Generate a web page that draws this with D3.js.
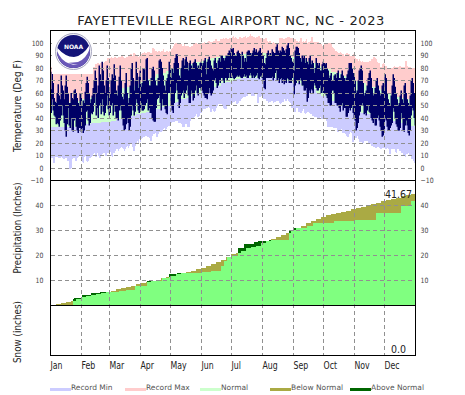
<!DOCTYPE html>
<html>
<head>
<meta charset="utf-8">
<script src="https://cdn.jsdelivr.net/npm/d3@7"></script>
<style>
    html, body { margin: 0; padding: 0; background: #fff; }
    svg { display: block; font-family: "DejaVu Sans", sans-serif; }
    .axis text { font-size: 7.3px; fill: #444; font-family: "DejaVu Sans", sans-serif; }
    .axis path, .axis line { display: none; }
</style>
</head>
<body>
<div id="chart"></div>
<script>
var months = ["Jan", "Feb", "Mar", "Apr", "May", "Jun", "Jul", "Aug", "Sep", "Oct", "Nov", "Dec"];
var monthStart = [0, 31, 59, 90, 120, 151, 181, 212, 243, 273, 304, 334];
var tempTicks = [-10, 0, 10, 20, 30, 40, 50, 60, 70, 80, 90, 100];
var precipTicks = [10, 20, 30, 40];

var recordMax = [
    81,81,80,80,80,80,80,80,79,79,80,80,80,80,80,80,79,79,79,79,80,80,81,81,81,81,80,80,80,80,80,
    80,81,81,81,81,81,81,82,82,82,81,81,81,83,83,84,84,83,84,85,85,84,85,86,86,88,88,88,
    88,89,88,88,89,89,88,88,89,89,89,90,90,89,88,88,89,89,90,90,91,91,90,92,92,91,90,90,89,90,90,
    91,92,92,93,92,92,93,93,93,92,92,96,96,95,94,94,93,94,94,93,94,94,95,93,93,94,94,93,94,94,
    95,96,98,99,100,100,99,100,100,99,99,98,98,99,98,98,98,98,97,97,98,98,99,100,100,100,99,99,99,100,100,
    100,100,101,100,100,101,102,102,101,101,101,102,102,103,103,102,102,102,103,103,103,104,103,104,104,103,103,104,104,104,
    105,106,104,105,104,103,103,105,105,104,104,105,105,106,104,105,105,106,107,106,106,105,105,104,105,105,106,106,104,104,104,
    103,103,104,104,102,101,102,102,100,100,101,100,100,99,99,100,104,104,104,104,103,103,104,104,105,105,105,104,104,104,104,
    103,103,102,102,101,102,104,104,101,102,101,102,103,100,101,101,102,105,105,101,101,101,101,101,101,100,100,99,98,98,
    99,99,99,100,100,100,100,100,97,96,95,94,94,93,92,92,93,92,91,91,90,91,92,92,91,91,90,90,90,91,92,
    88,87,87,86,87,86,85,86,85,85,85,85,85,85,86,86,87,87,89,89,88,87,85,84,84,81,81,83,84,83,
    82,82,80,79,80,80,80,80,81,82,81,81,81,81,82,82,81,81,81,81,86,86,82,81,81,81,80,80,80,80,80
];
var recordMin = [
    8,8,4,4,9,9,9,8,8,8,9,8,7,7,8,8,6,6,-1,-1,0,7,8,8,6,6,8,9,10,10,7,
    5,4,9,10,6,5,6,8,8,9,10,11,12,9,9,12,10,8,8,10,11,12,12,10,10,12,12,13,
    13,10,9,12,12,14,15,15,14,15,16,17,16,15,14,15,17,18,16,18,19,19,17,14,14,18,20,22,20,23,21,
    23,24,25,25,26,26,25,25,24,22,22,26,27,27,28,25,25,27,29,29,29,30,31,32,30,31,33,34,34,35,
    36,37,37,37,38,38,38,36,36,36,35,33,33,33,35,35,33,33,33,38,40,40,39,41,42,43,41,41,42,44,44,
    46,47,47,47,48,48,49,48,45,45,47,46,45,46,48,50,51,51,51,51,50,48,47,47,47,50,50,50,51,52,
    52,53,53,54,51,51,52,54,54,55,56,57,57,57,58,58,59,59,59,58,58,58,58,59,59,52,52,57,57,58,58,
    55,55,55,54,54,52,53,53,54,54,52,53,53,54,54,54,52,51,52,53,53,55,54,54,55,54,53,52,48,48,46,
    45,45,48,48,45,45,44,44,46,47,44,43,44,45,45,44,43,43,42,42,41,41,41,40,40,40,41,39,39,39,
    39,39,38,33,33,33,33,33,33,32,32,32,32,29,29,30,30,31,28,28,28,27,26,25,25,27,29,28,21,21,23,
    24,24,26,23,21,21,21,20,20,22,22,22,22,20,19,19,18,18,17,17,16,16,17,17,16,15,15,16,16,16,
    15,15,16,15,11,11,15,15,15,15,13,12,15,15,14,14,12,12,10,10,9,11,11,12,10,10,7,7,6,4,2
];
// normals read every 5 days
var normalHigh = [
    53,53,53,53,53,54, 55,56,57,58,59,60, 61,62,64,65,66,67, 69,71,73,75,76,78, 79,80,81,82,83,85, 86,87,88,89,90,90,
    91,91,91,92,92,92, 92,91,91,91,90,90, 89,88,87,86,84,82, 81,79,77,76,74,73, 71,70,68,66,65,63, 62,60,58,57,56,55, 54
];
var normalLow = [
    33,33,33,33,33,33, 34,35,36,36,37,37, 38,39,40,41,42,43, 44,45,46,47,49,50, 52,53,55,56,58,60, 62,63,65,66,68,69,
    70,71,72,72,72,72, 72,72,72,71,71,70, 69,68,66,65,63,60, 58,56,54,52,50,48, 47,45,44,43,42,41, 40,39,38,37,36,35, 34
];
var highs = [
    63,77,68,56,53,52,60,67,58,55,74,66,62,55,66,74,65,60,52,52,60,56,55,62,63,60,56,52,50,60,58,
    50,54,52,61,68,73,68,60,52,55,58,64,70,78,72,60,66,82,75,70,85,78,66,60,70,82,72,61,
    60,70,75,72,83,74,62,58,66,73,82,70,57,55,60,68,76,60,52,56,66,80,84,72,62,70,85,76,64,73,78,
    65,68,80,79,70,87,88,70,66,66,72,80,81,78,70,66,66,72,86,87,85,80,74,66,62,70,72,75,85,82,
    72,80,76,84,88,91,91,84,74,72,80,86,88,82,87,89,85,78,84,86,82,80,84,85,87,84,80,82,80,84,85,
    82,84,86,88,75,85,87,89,86,82,80,78,86,88,84,80,86,88,85,90,90,88,86,88,90,90,92,94,92,96,
    95,96,92,90,90,93,94,92,91,80,93,90,85,88,85,93,94,94,92,90,92,94,96,93,95,92,93,94,96,92,90,
    90,84,83,88,92,94,90,92,90,95,93,92,92,97,99,94,92,94,93,97,96,94,92,95,98,100,96,90,88,85,85,
    78,94,97,97,96,92,88,85,90,88,90,84,88,85,83,88,90,83,86,84,76,80,88,84,82,84,78,78,83,85,
    84,83,84,80,78,72,74,76,70,70,74,75,72,76,78,72,72,75,78,74,72,70,72,75,78,84,84,84,80,76,74,
    70,60,62,70,78,80,82,78,68,58,60,62,66,72,76,78,72,64,58,60,64,70,72,66,62,58,60,66,68,62,
    75,72,60,55,52,50,58,66,75,72,65,60,55,50,52,58,62,55,52,66,68,60,55,52,50,58,70,72,68,60,55
];
var lows = [
    44,55,46,42,41,35,36,35,33,38,42,50,42,36,30,25,35,48,34,32,40,30,29,38,40,33,30,28,32,32,29,
    32,28,30,34,45,46,38,34,36,44,43,45,52,60,42,48,40,50,52,43,55,45,42,44,50,58,47,42,
    44,50,52,42,50,45,40,40,38,46,50,46,40,34,30,31,35,40,36,30,33,42,50,46,42,45,55,52,46,44,48,
    52,46,46,47,50,52,55,46,48,44,44,40,38,37,37,48,55,56,58,52,46,55,50,50,47,44,43,60,60,62,
    50,46,44,52,60,68,62,55,48,52,58,60,62,56,60,62,66,58,52,52,62,60,54,56,62,66,60,58,64,64,62,
    62,60,58,56,56,55,60,64,60,58,60,62,70,72,68,64,66,70,68,72,72,70,68,72,72,70,72,76,72,72,
    74,72,71,72,73,74,73,74,73,72,72,73,75,73,74,72,72,74,76,74,72,74,72,73,74,76,72,71,73,74,72,
    70,64,63,72,72,72,72,72,72,73,70,72,76,78,70,72,68,71,72,68,71,67,69,68,72,71,68,68,68,72,74,
    59,66,68,70,70,67,72,70,66,66,62,62,64,53,56,62,60,63,62,60,68,66,64,62,62,64,66,60,62,60,
    60,60,58,56,52,52,50,50,62,62,60,52,52,50,50,48,45,50,52,46,48,48,41,41,44,48,46,48,50,44,40,
    38,30,32,36,42,45,50,52,50,43,44,42,46,50,45,44,40,38,36,40,34,34,40,42,38,33,30,25,26,30,
    40,38,33,30,30,32,34,36,48,45,40,35,33,30,30,32,44,40,30,29,34,38,34,28,26,30,42,48,46,40,34
];
// normal accumulated precip, read every 5 days
var normalPrecip = [
    0.1,0.5,0.9,1.4,2.0,2.6,3.3,3.8,4.2,4.6,5.0,5.4,6.0,6.5,7.0,7.5,8.0,8.5,9.0,9.5,10.0,10.4,10.9,11.4,
    12.0,12.5,13.0,13.5,14.0,14.6,15.2,15.9,16.7,17.5,18.4,19.5,20.5,21.0,22.0,22.9,23.3,24.0,25.0,26.0,
    26.8,27.6,28.4,29.2,30.2,31.0,32.0,33.0,33.8,34.6,35.5,36.2,36.7,37.2,37.6,38.0,38.5,39.0,39.6,40.1,
    40.7,41.2,41.7,42.2,42.7,43.2,43.7,44.4,44.7
];
// days it rained and the year's running total after that day
var rainDays = [0,20,22,23,27,29,30,31,40,49,68,75,84,96,111,118,126,151,160,170,173,176,181,187,193,203,207,218,238,242,247,256,262,283,304,325,350,360];
var rainTotals = [0,0.3,2.7,2.9,3.0,3.2,3.6,4.2,5.0,5.3,6.0,6.4,8.0,9.9,10.9,12.6,13.0,13.3,14.0,16.0,18.0,19.6,19.8,23.0,24.8,25.3,26.0,26.4,30.3,31.0,31.1,32.0,33.0,34.0,34.4,37.0,40.0,41.67];

var legendNames = ["Record Min", "Record Max", "Normal", "Below Normal", "Above Normal"];
var legendColors = ["#ccccff", "#ffcccc", "#ccffcc", "#aaaa44", "#006600"];
var legendX = [50, 125, 200, 270, 350];

var left = 50.5, right = 415.5;
var days = d3.range(365);
var x = d3.scaleLinear().domain([0, 365]).range([left, right]);
var yTemp = d3.scaleLinear().domain([-10, 110]).range([180.5, 30.5]);
var yPrecip = d3.scaleLinear().domain([0, 50]).range([305.5, 180.5]);

var svg = d3.select("#chart").append("svg").attr("width", 465).attr("height", 395);

function fiveDay(arr, d) { return arr[Math.floor(d / 5)]; }
function rainAt(d) { return rainTotals[d3.bisectRight(rainDays, d) - 1]; }

function bars(color, y, low, high, w) {
    svg.append("g").attr("shape-rendering", w ? "auto" : "crispEdges").attr("fill", color)
        .selectAll("rect").data(days).enter().append("rect")
        .attr("x", function(d) { return x(d); })
        .attr("width", w || 1)
        .attr("y", function(d) { return y(Math.max(low(d), high(d))); })
        .attr("height", function(d) { return Math.abs(y(low(d)) - y(high(d))); });
}

// the page's text runs narrower than DejaVu, so pull it in
function squeeze(sel, k) {
    sel.each(function() {
        d3.select(this).attr("textLength", this.getComputedTextLength() * k).attr("lengthAdjust", "spacingAndGlyphs");
    });
}

// temperature bands
bars("#ccccff", yTemp, function(d) { return recordMin[d]; }, function(d) { return fiveDay(normalLow, d); });
bars("#ccffcc", yTemp, function(d) { return fiveDay(normalLow, d); }, function(d) { return fiveDay(normalHigh, d); });
bars("#ffcccc", yTemp, function(d) { return fiveDay(normalHigh, d); }, function(d) { return recordMax[d]; });
bars("#000066", yTemp, function(d) { return lows[d]; }, function(d) { return highs[d]; }, 1.5);

// precipitation
bars("#80ff80", yPrecip, function() { return 0; }, function(d) { return Math.min(rainAt(d), fiveDay(normalPrecip, d)); });
bars("#aaaa44", yPrecip, function(d) { return Math.min(rainAt(d), fiveDay(normalPrecip, d)); }, function(d) { return fiveDay(normalPrecip, d); });
bars("#006600", yPrecip, function(d) { return fiveDay(normalPrecip, d); }, function(d) { return Math.max(rainAt(d), fiveDay(normalPrecip, d)); });

// grid
var grid = svg.append("g").attr("stroke", "#909090").attr("stroke-dasharray", "4,3").attr("shape-rendering", "crispEdges");
grid.selectAll(".t").data(tempTicks.slice(1)).enter().append("line")
    .attr("x1", left).attr("x2", right)
    .attr("y1", function(d) { return yTemp(d); }).attr("y2", function(d) { return yTemp(d); });
grid.selectAll(".p").data(precipTicks).enter().append("line")
    .attr("x1", left).attr("x2", right)
    .attr("y1", function(d) { return yPrecip(d); }).attr("y2", function(d) { return yPrecip(d); });
grid.selectAll(".m").data(monthStart.slice(1)).enter().append("line")
    .attr("y1", 30.5).attr("y2", 355.5)
    .attr("x1", function(d) { return x(d); }).attr("x2", function(d) { return x(d); });

// logo
var logo = svg.append("g");
logo.append("rect").attr("x", 52).attr("y", 31).attr("width", 41).attr("height", 43).attr("fill", "#fff");
var defs = svg.append("defs");
defs.append("clipPath").attr("id", "disc").append("circle").attr("cx", 73.5).attr("cy", 51.5).attr("r", 16.5);
logo.append("circle").attr("cx", 73.5).attr("cy", 51.5).attr("r", 18).attr("fill", "#f2f2f8").attr("stroke", "#a8a8c0").attr("stroke-width", 1);
var disc = logo.append("g").attr("clip-path", "url(#disc)");
disc.append("rect").attr("x", 55).attr("y", 33).attr("width", 37).attr("height", 37).attr("fill", "#141478");
disc.append("path").attr("d", "M55,49 L70,63 Q82,59 92,41 L92,70 L55,70 Z").attr("fill", "#6a58b8");
disc.append("path").attr("d", "M55,45 Q64,57 74,57 Q84,56 92,41 Q88,59 78,62 L68,63 L78,65 Q68,65 62,59 Q57,53 55,45 Z").attr("fill", "#fff");
logo.append("text").attr("x", 73.5).attr("y", 48.7).attr("text-anchor", "middle").attr("font-size", 6).attr("font-weight", "bold").attr("fill", "#fff").text("NOAA");

// frame
var frame = svg.append("g").attr("stroke", "#000").attr("shape-rendering", "crispEdges").attr("fill", "none");
frame.append("rect").attr("x", left).attr("y", 30.5).attr("width", right - left).attr("height", 325);
frame.append("line").attr("x1", left).attr("x2", right).attr("y1", 180.5).attr("y2", 180.5);
frame.append("line").attr("x1", left).attr("x2", right).attr("y1", 305.5).attr("y2", 305.5);

// axes
svg.append("g").attr("class", "axis").attr("transform", "translate(" + left + ",0)")
    .call(d3.axisLeft(yTemp).tickValues(tempTicks).tickSize(0).tickPadding(7));
svg.append("g").attr("class", "axis").attr("transform", "translate(" + right + ",0)")
    .call(d3.axisRight(yTemp).tickValues(tempTicks).tickSize(0).tickPadding(5));
svg.append("g").attr("class", "axis").attr("transform", "translate(" + left + ",0)")
    .call(d3.axisLeft(yPrecip).tickValues(precipTicks).tickSize(0).tickPadding(7));
svg.append("g").attr("class", "axis").attr("transform", "translate(" + right + ",0)")
    .call(d3.axisRight(yPrecip).tickValues(precipTicks).tickSize(0).tickPadding(5));
squeeze(svg.selectAll(".axis text"), 0.85);

// month labels
svg.selectAll(".month").data(months).enter().append("text")
    .attr("class", "month")
    .attr("x", function(d, i) { return x(monthStart[i]); })
    .attr("y", 369)
    .style("font-size", "10px").style("fill", "#222")
    .text(function(d) { return d; });
squeeze(svg.selectAll(".month"), 0.78);

svg.append("text")
    .attr("x", 231).attr("y", 25)
    .style("text-anchor", "middle").style("font-size", "13px").style("letter-spacing", "0.6px").style("fill", "#222")
    .text("FAYETTEVILLE REGL AIRPORT NC, NC - 2023");

function sideLabel(name, cy, len) {
    svg.append("text")
        .attr("transform", "translate(21," + cy + ") rotate(-90)")
        .attr("textLength", len).attr("lengthAdjust", "spacingAndGlyphs")
        .style("text-anchor", "middle").style("font-size", "10px").style("fill", "#222")
        .text(name);
}
sideLabel("Temperature (Deg F)", 106, 92);
sideLabel("Precipitation (Inches)", 228, 91);
sideLabel("Snow (inches)", 332, 62);

var totals = svg.append("g").style("font-size", "11px").style("fill", "#222");
totals.append("text").attr("x", 412).attr("y", 198).style("text-anchor", "end").text("41.67");
totals.append("text").attr("x", 406).attr("y", 353).style("text-anchor", "end").text("0.0");
squeeze(totals.selectAll("text"), 0.86);

// legend
legendNames.forEach(function(name, i) {
    svg.append("rect").attr("x", legendX[i]).attr("y", 388).attr("width", 21).attr("height", 3).attr("fill", legendColors[i]);
    svg.append("text").attr("x", legendX[i] + 21).attr("y", 390)
        .style("font-size", "7.5px").style("fill", "#555").text(name);
});
</script>
</body>
</html>
